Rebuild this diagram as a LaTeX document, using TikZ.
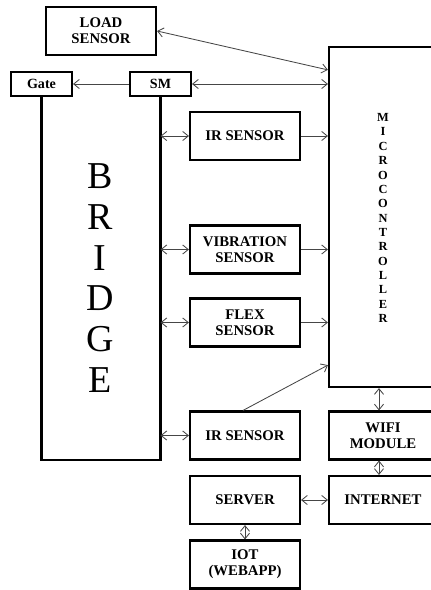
\documentclass[tikz,border=0pt]{standalone}
\usepackage{fontspec}
\setmainfont{Liberation Serif}
\usepackage{tikz}
\usetikzlibrary{arrows.meta,calc}
\definecolor{linkgray}{RGB}{70,70,70}

\begin{document}
\begin{tikzpicture}[
  x=0.025cm, y=-0.025cm,
  % ── node styles ──────────────────────────────────────────
  blk/.style={
    rectangle, draw, line width=1.5pt,
    minimum width=2.75cm, minimum height=1.2cm,
    align=center, inner sep=1pt,
    font=\fontsize{10.5}{11.5}\selectfont\bfseries
  },
  smallblk/.style={blk, minimum width=1.525cm, minimum height=0.6cm,
    font=\fontsize{10}{11}\selectfont\bfseries},
  sideblk/.style={blk, minimum width=2.7cm},
  % ── link styles ──────────────────────────────────────────
  link/.style={line width=0.6pt, draw=linkgray,
    >={Straight Barb[length=4pt,width=6.5pt]}},
]
\useasboundingbox (0,0) rectangle (431,590);

%% ── TOP BLOCKS ───────────────────────────────────────────────
\node[blk]      (load) at (101,31)    {LOAD\\SENSOR};
\node[smallblk] (gate) at (41.5,84)   {Gate};
\node[smallblk] (sm)   at (160.5,84)  {SM};

%% ── BRIDGE (open top between Gate and SM) ────────────────────
\coordinate (bb) at (100,460);
\draw[line width=1.6pt] (gate.south) |- (bb) -| (sm.south);
\node[align=center, font=\fontsize{27}{29}\selectfont] (bridge)
  at (100,278) {B\\R\\I\\D\\G\\E};

%% ── MICROCONTROLLER (runs off the right edge) ────────────────
\node[sideblk, minimum height=8.5cm] (micro) at (383,217) {};
\node[align=center, font=\fontsize{8.8}{10.2}\selectfont\bfseries]
  (microtxt) at (383,218)
  {M\\I\\C\\R\\O\\C\\O\\N\\T\\R\\O\\L\\L\\E\\R};

%% ── SENSORS ──────────────────────────────────────────────────
\node[blk] (ir1)  at (245,136)   {IR SENSOR};
\node[blk] (vib)  at (245,249.5) {VIBRATION\\SENSOR};
\node[blk] (flex) at (245,322.5) {FLEX\\SENSOR};
\node[blk] (ir2)  at (245,435.5) {IR SENSOR};

%% ── NETWORK SIDE ─────────────────────────────────────────────
\node[sideblk] (wifi)   at (383,435.5) {WIFI\\MODULE};
\node[blk]     (server) at (245,500)   {SERVER};
\node[sideblk] (net)    at (383,500)   {INTERNET};
\node[blk]     (iot)    at (245,564.5) {IOT\\(WEBAPP)};

%% ── LINKS ────────────────────────────────────────────────────
\draw[link,<->] (load.east) -- ([yshift=-0.6cm]micro.north west);
\draw[link,->]  (sm.west) -- (gate.east);
\draw[link,<->] (sm.east) -- (sm.east -| micro.west);
\foreach \s in {ir1,vib,flex}{
  \draw[link,<->] (\s.west -| sm.south) -- (\s.west);
  \draw[link,->]  (\s.east) -- (\s.east -| micro.west);}
\draw[link,<->] (ir2.west -| sm.south) -- (ir2.west);
\draw[link,->]  ([xshift=-0.05cm]ir2.north) -- ([yshift=0.575cm]micro.south west);
\draw[link,<->] ([xshift=-0.1cm]micro.south) -- ([xshift=-0.1cm]wifi.north);
\draw[link,<->] ([xshift=-0.1cm]wifi.south) -- ([xshift=-0.1cm]net.north);
\draw[link,<->] (server.east) -- (net.west);
\draw[link,<->] (server.south) -- (iot.north);

\end{tikzpicture}
\end{document}
